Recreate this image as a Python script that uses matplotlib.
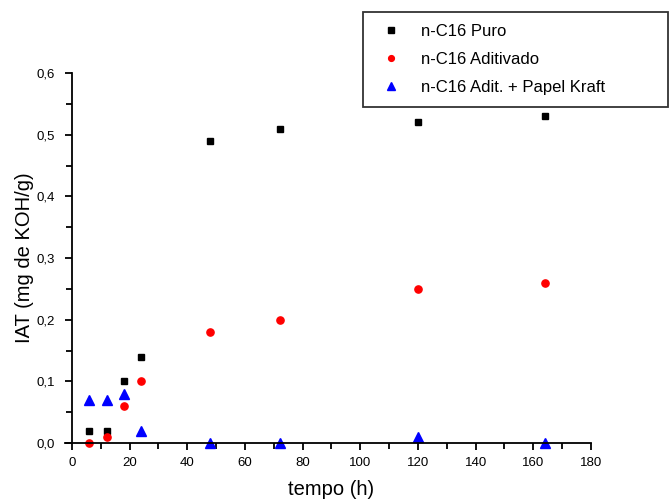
import matplotlib
matplotlib.use('Agg')
import matplotlib.pyplot as plt
from matplotlib.ticker import MultipleLocator, FuncFormatter

plt.rcParams['font.family'] = ['Liberation Sans', 'DejaVu Sans']

# tempo (h)
tempo = [6, 12, 18, 24, 48, 72, 120, 164]
# IAT (mg de KOH/g)
puro = [0.02, 0.02, 0.10, 0.14, 0.49, 0.51, 0.52, 0.53]
aditivado = [0.0, 0.01, 0.06, 0.10, 0.18, 0.20, 0.25, 0.26]
kraft = [0.07, 0.07, 0.08, 0.02, 0.0, 0.0, 0.01, 0.0]

labels = ['n-C16 Puro', 'n-C16 Aditivado', 'n-C16 Adit. + Papel Kraft']

fig = plt.figure(figsize=(6.69, 4.99), dpi=100)
ax = fig.add_axes([0.1076, 0.1122, 0.7758, 0.7415])

ax.plot(tempo, puro, 's', color='black', markersize=4.6, label=labels[0], clip_on=False)
ax.plot(tempo, aditivado, 'o', color='red', markersize=5.2, label=labels[1], clip_on=False)
ax.plot(tempo, kraft, '^', color='blue', markersize=7, label=labels[2], clip_on=False)

ax.set_xlim(0, 180)
ax.set_ylim(0, 0.6)
ax.spines['top'].set_visible(False)
ax.spines['right'].set_visible(False)
ax.spines['bottom'].set_bounds(-2.5, 180)

ax.xaxis.set_major_locator(MultipleLocator(20))
ax.xaxis.set_minor_locator(MultipleLocator(10))
ax.yaxis.set_major_locator(MultipleLocator(0.1))
ax.yaxis.set_minor_locator(MultipleLocator(0.05))
ax.yaxis.set_major_formatter(FuncFormatter(lambda v, p: ('%.1f' % v).replace('.', ',')))
ax.tick_params(which='both', direction='out', width=1.3, labelsize=9.5)
ax.tick_params(axis='x', pad=5)
ax.tick_params(axis='y', pad=7)
ax.tick_params(which='major', length=5)
ax.tick_params(which='minor', length=4)
for s in ax.spines.values():
    s.set_linewidth(1.3)

ax.set_xlabel('tempo (h)', fontsize=14.5, labelpad=8)
ax.set_ylabel('IAT (mg de KOH/g)', fontsize=14.5, labelpad=2)

leg = fig.legend(loc='upper left', bbox_to_anchor=(0.5426, 0.788, 0.456, 0.188),
                 mode='expand', fontsize=12, frameon=True, fancybox=False,
                 labelspacing=0.8, handlelength=2.0, handletextpad=0.8,
                 borderpad=0.7, borderaxespad=0, markerscale=0.8)
leg.get_frame().set_edgecolor('black')
leg.get_frame().set_linewidth(1.3)

fig.savefig('out.png', dpi=100)
